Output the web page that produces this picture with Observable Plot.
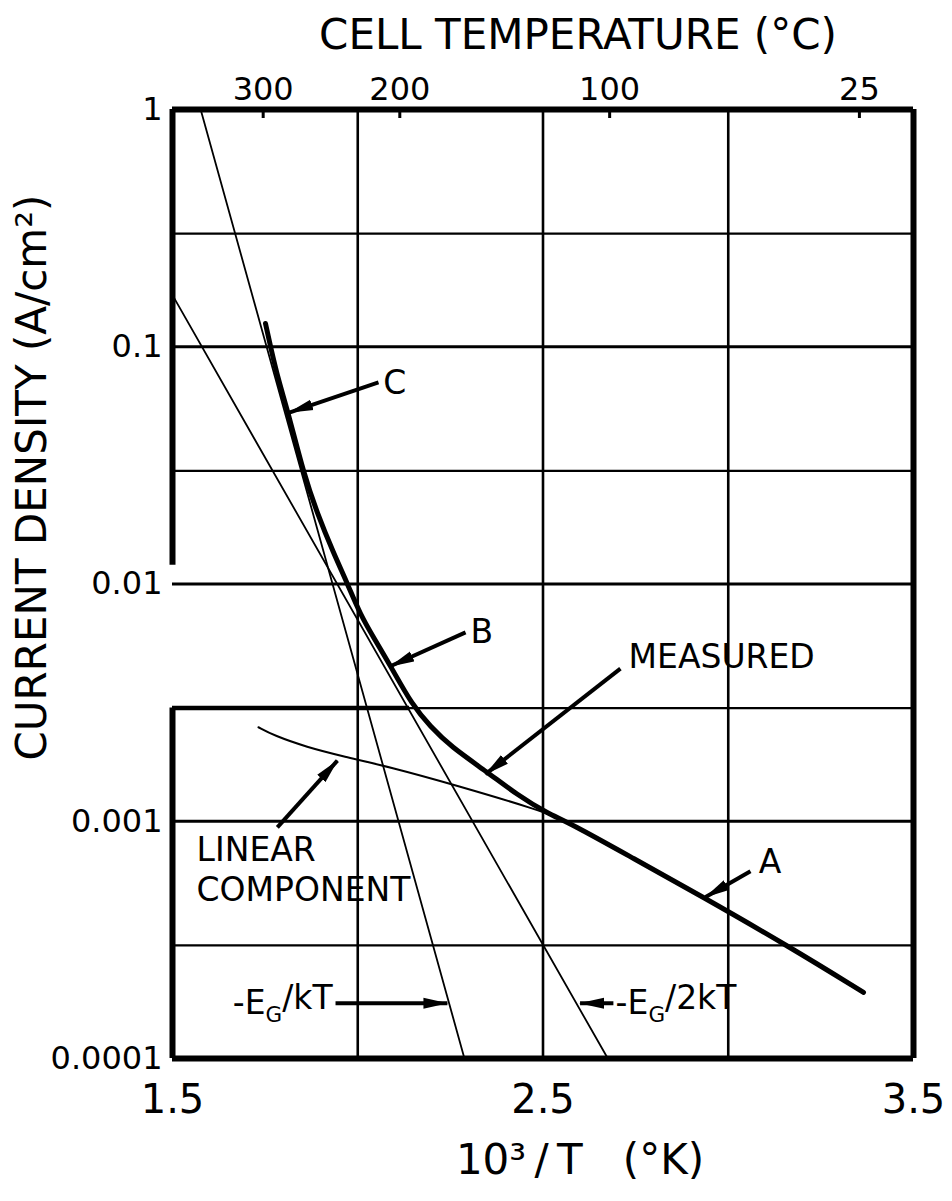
<!DOCTYPE html>
<html><head><meta charset="utf-8">
<script src="https://cdn.jsdelivr.net/npm/d3@7"></script>
<script src="https://cdn.jsdelivr.net/npm/@observablehq/plot@0.6"></script>
<style>
html,body{margin:0;padding:0;background:#fff;}
#chart svg{display:block;}
</style>
</head><body><div id="chart"></div>
<script>
// ---- data (x = 10^3/T in 1/K, J = current density in A/cm^2) ----
const measuredX = [1.751, 1.765, 1.786, 1.813, 1.854, 1.891, 1.935, 1.972, 2.007, 2.043, 2.088, 2.148, 2.196, 2.250, 2.350, 2.431, 2.512, 2.574, 2.744, 2.925, 3.168, 3.365];
const measuredJ = [0.1253, 0.0993, 0.0721, 0.0523, 0.0292, 0.0198, 0.01345, 0.01005, 0.00743, 0.00594, 0.00453, 0.00307, 0.00251, 0.00207, 0.00161, 0.00129, 0.00108, 0.00098, 0.000697, 0.000486, 0.000294, 0.000190];
const linearX = [1.732, 1.773, 1.864, 1.953, 2.088, 2.264, 2.501, 2.526];
const linearJ = [0.00249, 0.00230, 0.00205, 0.00189, 0.00169, 0.00142, 0.00110, 0.00105];
const egKTX = [1.576, 2.288];
const egKTJ = [1, 0.0001];
const eg2KTX = [1.5, 2.675];
const eg2KTJ = [0.165, 0.0001];

const xTicks = [1.5, 2.5, 3.5];
const xGrid = [2, 2.5, 3];
const yTicks = [0.0001, 0.001, 0.01, 0.1, 1];
const yTickLabels = ["0.0001", "0.001", "0.01", "0.1", "1"];
const yGridMajor = [0.001, 0.01, 0.1];
const yGridMinor = [0.0003, 0.003, 0.03, 0.3];
const tempTicksC = [300, 200, 100, 25];

// annotation labels
const labelText = ["C", "B", "MEASURED", "A", "LINEAR", "COMPONENT", "-E_G/2kT"];
const labelX = [2.069, 2.304, 2.731, 3.082, 1.565, 1.565, 2.696];
const labelJ = [0.0700, 0.00625, 0.0049, 0.00067, 0.000753, 0.000511, 0.000171];
const labelEndText = ["-E_G/kT"];
const labelEndX = [1.932];
const labelEndJ = [0.000171];

// annotation arrows (tail -> tip)
const arrowX1 = [2.056, 2.291, 2.709, 3.060, 1.783, 1.940, 2.690];
const arrowJ1 = [0.0707, 0.00625, 0.0044, 0.000615, 0.000942, 0.000171, 0.000171];
const arrowX2 = [1.815, 2.088, 2.345, 2.939, 1.945, 2.242, 2.600];
const arrowJ2 = [0.0528, 0.00450, 0.00158, 0.000479, 0.0018, 0.000171, 0.000171];

// ---- build tables ----
const measured = measuredX.map((x, i) => ({x, y: measuredJ[i]}));
const linear = linearX.map((x, i) => ({x, y: linearJ[i]}));
const egKT = egKTX.map((x, i) => ({x, y: egKTJ[i]}));
const eg2KT = eg2KTX.map((x, i) => ({x, y: eg2KTJ[i]}));
const labels = labelText.map((t, i) => ({t, x: labelX[i], y: labelJ[i]}));
const labelsEnd = labelEndText.map((t, i) => ({t, x: labelEndX[i], y: labelEndJ[i]}));
const arrows = arrowX1.map((x1, i) => ({x1, y1: arrowJ1[i], x2: arrowX2[i], y2: arrowJ2[i]}));
const tempPos = tempTicksC.map(c => 1000 / (c + 273.15));
const tempLabel = new Map(tempPos.map((p, i) => [p, String(tempTicksC[i])]));
const yLabelMap = new Map(yTicks.map((v, i) => [v, yTickLabels[i]]));

const W = 952, H = 1201, mt = 109, mr = 39, mb = 143, ml = 172;
const plotH = H - mt - mb;
const FONT = "DejaVu Sans";

// filled arrowhead marker
function filledHead(color) {
  const m = d3.create("svg:marker")
    .attr("viewBox", "-24 -6 25 12")
    .attr("markerWidth", 25).attr("markerHeight", 12)
    .attr("markerUnits", "userSpaceOnUse")
    .attr("refX", 0).attr("refY", 0)
    .attr("orient", "auto");
  m.append("path").attr("d", "M-24,-5.5L1,0L-24,5.5Z").attr("fill", color).attr("stroke", "none");
  return m.node();
}

const chart = Plot.plot({
  width: W, height: H,
  marginTop: mt, marginRight: mr, marginBottom: mb, marginLeft: ml,
  style: {fontFamily: FONT, background: "#fff", color: "#000", overflow: "visible"},
  x: {domain: [1.5, 3.5], axis: null},
  y: {type: "log", domain: [0.0001, 1], axis: null},
  marks: [
    // grid
    Plot.ruleX(xGrid, {x: d => d, stroke: "#000", strokeWidth: 2.6}),
    Plot.ruleY(yGridMajor, {y: d => d, stroke: "#000", strokeWidth: 3.2}),
    Plot.ruleY(yGridMinor, {y: d => d, stroke: "#000", strokeWidth: 2.2}),
    Plot.ruleY([0.003], {y: d => d, x1: 1.5, x2: 2.14, stroke: "#000", strokeWidth: 4.5}),
    // frame
    Plot.ruleY([1, 0.0001], {y: d => d, stroke: "#000", strokeWidth: 6}),
    Plot.ruleX([3.5], {x: d => d, stroke: "#000", strokeWidth: 6}),
    Plot.ruleX([1.5], {x: d => d, y1: 0.0001, y2: 0.003, stroke: "#000", strokeWidth: 6}),
    Plot.ruleX([1.5], {x: d => d, y1: 0.012, y2: 1, stroke: "#000", strokeWidth: 6}),
    // top temperature ticks (inward)
    Plot.tickX(tempPos, {x: d => d, stroke: "#000", strokeWidth: 3, insetBottom: plotH - 9}),
    // thin component lines
    Plot.line(egKT, {x: "x", y: "y", stroke: "#000", strokeWidth: 1.8}),
    Plot.line(eg2KT, {x: "x", y: "y", stroke: "#000", strokeWidth: 1.8}),
    Plot.line(linear, {x: "x", y: "y", stroke: "#000", strokeWidth: 2, curve: "basis"}),
    // measured curve
    Plot.line(measured, {x: "x", y: "y", stroke: "#000", strokeWidth: 5, curve: "basis"}),
    // arrows
    Plot.link(arrows, {x1: "x1", y1: "y1", x2: "x2", y2: "y2", stroke: "#000", strokeWidth: 4, markerEnd: filledHead}),
    // annotation text
    Plot.text(labels, {x: "x", y: "y", text: "t", textAnchor: "start", fontSize: 33, fill: "#000"}),
    Plot.text(labelsEnd, {x: "x", y: "y", text: "t", textAnchor: "end", fontSize: 33, fill: "#000"}),
    // axes
    Plot.axisY({ticks: yTicks, tickFormat: d => yLabelMap.get(d), tickSize: 0, tickPadding: 10, fontSize: 32, label: null}),
    Plot.axisX({anchor: "bottom", ticks: xTicks, tickFormat: d => d.toFixed(1), tickSize: 0, tickPadding: 26, fontSize: 40, label: null}),
    Plot.axisX({anchor: "top", ticks: tempPos, tickFormat: d => tempLabel.get(d), tickSize: 0, tickPadding: 10, fontSize: 32, label: null}),
    // titles
    Plot.text(["CELL TEMPERATURE (°C)"], {frameAnchor: "top", textAnchor: "middle", lineAnchor: "middle", dx: 35, dy: -74, fontSize: 42, fill: "#000"}),
    Plot.text(["CURRENT DENSITY (A/cm²)"], {frameAnchor: "top-left", textAnchor: "middle", lineAnchor: "middle", rotate: -90, dx: -140, dy: 368, fontSize: 42, fill: "#000"}),
    Plot.text(["10³\u2009/\u2009T\u00a0\u00a0\u00a0(°K)"], {frameAnchor: "bottom", textAnchor: "middle", lineAnchor: "middle", dx: 37, dy: 102, fontSize: 42, fill: "#000"})
  ]
});

// subscript G in E_G labels
d3.select(chart).selectAll("text").filter(function() { return this.textContent.includes("_G"); })
  .each(function() {
    const parts = this.textContent.split("_G");
    const s = d3.select(this);
    s.text(null);
    s.append("tspan").text(parts[0]);
    s.append("tspan").attr("dy", "0.4em").attr("font-size", "0.65em").text("G");
    s.append("tspan").attr("dy", "-0.4em").text(parts[1]);
  });

document.getElementById("chart").appendChild(chart);
</script>
</body></html>
